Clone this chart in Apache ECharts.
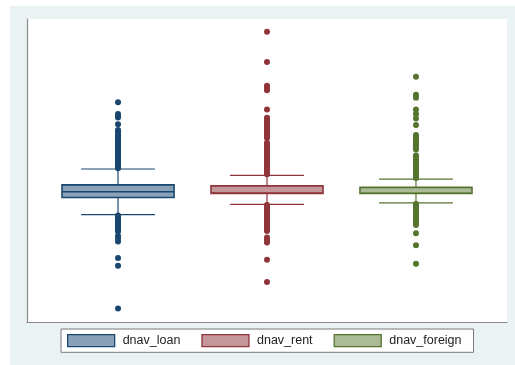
<!DOCTYPE html>
<html>
<head>
<meta charset="utf-8">
<script src="https://cdn.jsdelivr.net/npm/echarts@6/dist/echarts.min.js"></script>
<style>
  html, body { margin: 0; padding: 0; background: #ffffff; }
  #frame { position: absolute; left: 10px; top: 6px; width: 505px; height: 359px; background: #eaf2f3; }
  #chart { position: absolute; left: 0; top: 0; width: 515px; height: 365px; }
</style>
</head>
<body>
<div id="frame"></div>
<div id="chart"></div>
<script>
// Variables shown, in order
const categories = ['dnav_loan', 'dnav_rent', 'dnav_foreign'];

// Box statistics: [lower whisker, Q1, median, Q3, upper whisker]
const loanStats    = [-7.5, -0.7, 1.6, 4.3, 10.6];
const rentStats    = [-3.4,  0.9, 1.1, 3.9,  8.1];
const foreignStats = [-2.8,  0.9, 1.0, 3.3,  6.6];

// Observations beyond the whiskers
const loanOutliers = [
  37.0, 32.4, 31.7, 31.0, 28.3,
  26.0, 25.4, 24.5, 23.9, 23.1, 22.6, 21.8, 21.2, 20.3, 19.8, 19.0, 18.2, 17.7,
  16.8, 16.3, 15.4, 14.9, 14.0, 13.5, 12.6, 12.1, 11.3, 10.9,
  -7.8, -8.3, -8.9, -9.6, -10.2, -10.8, -11.5, -12.1, -12.9, -13.5, -14.2,
  -15.9, -16.9, -18.1, -24.7, -27.7, -44.7
];
const rentOutliers = [
  65.0, 53.0, 43.6, 42.7, 41.8, 34.2,
  30.9, 30.3, 29.4, 28.8, 28.1, 27.3, 26.7, 25.8, 25.2, 24.3, 23.7, 22.9,
  21.0, 20.4, 19.5, 18.9, 18.0, 17.3, 16.7, 15.8, 15.2, 14.3, 13.7, 12.8,
  12.2, 11.3, 10.7, 9.8, 9.2, 8.5,
  -3.7, -4.4, -5.0, -5.8, -6.4, -7.1, -7.9, -8.5, -9.3, -9.9, -10.6, -11.4,
  -12.0, -12.7, -13.4, -14.0,
  -16.5, -17.5, -18.5, -25.3, -34.2
];
const foreignOutliers = [
  47.1, 40.0, 38.8, 34.2, 32.4, 30.6, 28.0,
  24.1, 23.5, 22.6, 22.0, 21.1, 20.5, 19.6, 19.0, 18.3,
  15.9, 15.2, 14.3, 13.7, 12.8, 12.2, 11.3, 10.7, 9.8, 9.2, 8.4, 7.6, 7.0,
  -3.3, -4.0, -4.9, -5.5, -6.4, -7.0, -7.9, -8.5, -9.4, -10.0, -10.9, -11.6,
  -14.9, -19.6, -26.9
];

const lineColors = ['#1a476f', '#90353b', '#55752f'];
const fillColors = ['#8aa1ba', '#c4979a', '#abba97'];
const statsList = [loanStats, rentStats, foreignStats];
const outlierList = [loanOutliers, rentOutliers, foreignOutliers];

const BOX_HALF = 0.376;   // half box width, in category units
const CAP_HALF = 0.248;   // half whisker-cap width

function renderBox(params, api) {
  const idx = params.seriesIndex / 2;
  const x = api.value(0);
  const lw = api.value(1), q1 = api.value(2), md = api.value(3), q3 = api.value(4), uw = api.value(5);
  const pL = api.coord([x - BOX_HALF, q3]);
  const pR = api.coord([x + BOX_HALF, q1]);
  const cx = api.coord([x, 0])[0];
  const yMed = api.coord([x, md])[1];
  const yLw = api.coord([x, lw])[1];
  const yUw = api.coord([x, uw])[1];
  const capL = api.coord([x - CAP_HALF, 0])[0];
  const capR = api.coord([x + CAP_HALF, 0])[0];
  const stroke = lineColors[idx];
  const lineStyle = { stroke: stroke, lineWidth: 1.2 };
  return {
    type: 'group',
    children: [
      { type: 'line', shape: { x1: cx, y1: pL[1], x2: cx, y2: yUw }, style: lineStyle },
      { type: 'line', shape: { x1: cx, y1: pR[1], x2: cx, y2: yLw }, style: lineStyle },
      { type: 'line', shape: { x1: capL, y1: yUw, x2: capR, y2: yUw }, style: lineStyle },
      { type: 'line', shape: { x1: capL, y1: yLw, x2: capR, y2: yLw }, style: lineStyle },
      { type: 'rect', shape: { x: pL[0], y: pL[1], width: pR[0] - pL[0], height: pR[1] - pL[1] },
        style: { fill: fillColors[idx], stroke: stroke, lineWidth: 1.6 } },
      { type: 'line', shape: { x1: pL[0], y1: yMed, x2: pR[0], y2: yMed },
        style: { stroke: stroke, lineWidth: 1.6 } }
    ]
  };
}

const series = [];
categories.forEach(function (name, i) {
  series.push({
    name: name,
    type: 'custom',
    renderItem: renderBox,
    encode: { x: 0, y: [1, 2, 3, 4, 5] },
    itemStyle: { color: fillColors[i], borderColor: lineColors[i] },
    data: [[i + 1].concat(statsList[i])],
    z: 2,
    silent: true
  });
  series.push({
    name: name,
    type: 'scatter',
    symbol: 'circle',
    symbolSize: 6,
    itemStyle: { color: lineColors[i], opacity: 1 },
    data: outlierList[i].map(function (v) { return [i + 1, v]; }),
    z: 3,
    silent: true
  });
});

const chart = echarts.init(document.getElementById('chart'), null, { renderer: 'canvas' });
chart.setOption({
  animation: false,
  backgroundColor: 'transparent',
  grid: {
    left: 27, right: 8, top: 19, bottom: 43,
    show: true, backgroundColor: '#ffffff', borderWidth: 0
  },
  xAxis: {
    type: 'value', min: 0.389, max: 3.611,
    axisLine: { show: true, onZero: false, lineStyle: { color: '#8a8a8a', width: 1.2 } },
    axisTick: { show: false }, axisLabel: { show: false }, splitLine: { show: false }
  },
  yAxis: {
    type: 'value', min: -50, max: 70,
    axisLine: { show: true, onZero: false, lineStyle: { color: '#8a8a8a', width: 1.2 } },
    axisTick: { show: false }, axisLabel: { show: false }, splitLine: { show: false }
  },
  legend: {
    left: 61, top: 329,
    padding: [5, 12, 5, 6],
    itemWidth: 47, itemHeight: 12, itemGap: 21,
    backgroundColor: '#ffffff', borderColor: '#7a7a7a', borderWidth: 1,
    selectedMode: false,
    textStyle: { fontFamily: 'Liberation Sans, Arial, sans-serif', fontSize: 12.5, color: '#222', padding: [0, 0, 0, 3] },
    data: categories.map(function (name, i) {
      return { name: name, icon: 'rect',
        itemStyle: { color: fillColors[i], borderColor: lineColors[i], borderWidth: 1.3 } };
    })
  },
  series: series
});
</script>
</body>
</html>
